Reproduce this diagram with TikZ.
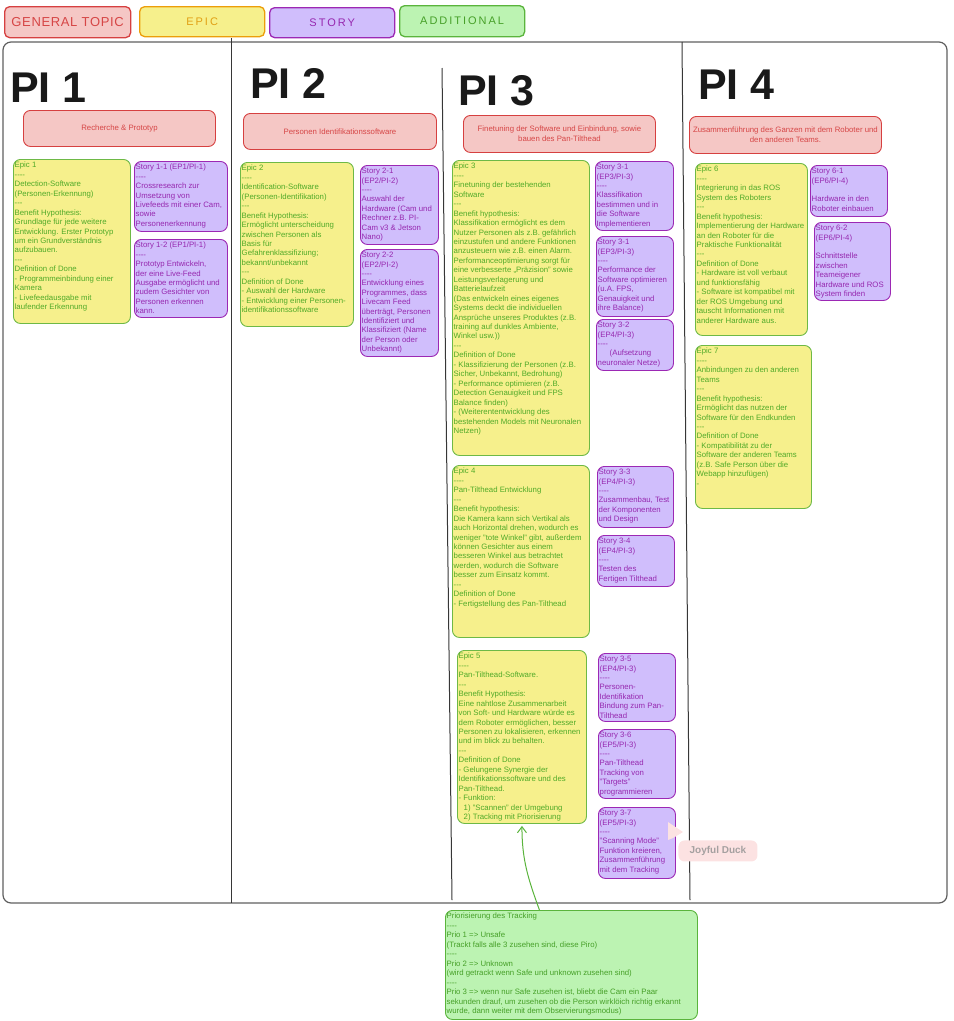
\documentclass[tikz,border=0pt]{standalone}
\usepackage{fontspec}
\setmainfont{Liberation Sans}
\usepackage{xcolor}
\usetikzlibrary{shapes,arrows,arrows.meta,positioning}

\definecolor{topicfill}{RGB}{245,199,197}
\definecolor{topicline}{RGB}{214,64,64}
\definecolor{topictext}{RGB}{214,70,70}
\definecolor{epicfill}{RGB}{246,240,140}
\definecolor{epicline}{RGB}{110,185,70}
\definecolor{epictext}{RGB}{80,170,40}
\definecolor{legendepic}{RGB}{236,158,10}
\definecolor{legendepictext}{RGB}{225,160,20}
\definecolor{storyfill}{RGB}{208,190,252}
\definecolor{storyline}{RGB}{156,40,180}
\definecolor{storytext}{RGB}{150,40,175}
\definecolor{addfill}{RGB}{188,243,178}
\definecolor{addline}{RGB}{90,180,60}
\definecolor{addtext}{RGB}{70,160,40}
\definecolor{frameline}{RGB}{95,95,95}
\definecolor{divline}{RGB}{55,55,55}
\definecolor{headtext}{RGB}{25,25,25}
\definecolor{duckfill}{RGB}{252,226,226}
\definecolor{ducktext}{RGB}{165,160,160}

\newcommand{\fourdash}{-{}-{}-{}-}
\newcommand{\threedash}{-{}-{}-}

\begin{document}
\begin{tikzpicture}[
    x=1pt, y=-1pt,
    card/.style={rectangle, rounded corners=7pt, line width=0.9pt, inner sep=0pt, anchor=north west},
    topic/.style={card, fill=topicfill, draw=topicline, text=topictext, align=center, font=\fontsize{7.8}{10}\selectfont},
    epic/.style={card, fill=epicfill, draw=epicline},
    story/.style={card, fill=storyfill, draw=storyline},
    extra/.style={card, fill=addfill, draw=addline},
    epictxt/.style={anchor=north west, inner xsep=1.5pt, inner ysep=3pt, align=left, text=epictext, font=\fontsize{7.8}{9.45}\selectfont},
    storytxt/.style={anchor=north west, inner xsep=1.5pt, inner ysep=3pt, align=left, text=storytext, font=\fontsize{7.8}{9.4}\selectfont},
    extratxt/.style={anchor=north west, inner xsep=1.5pt, inner ysep=3pt, align=left, text=addtext, font=\fontsize{7.8}{9.5}\selectfont},
    legend/.style={card, line width=1.3pt, rounded corners=5pt, font=\fontsize{11}{11}\selectfont\addfontfeatures{LetterSpace=18}},
    heading/.style={anchor=base west, inner sep=0pt, text=headtext, font=\fontsize{43}{43}\selectfont\bfseries},
    divider/.style={draw=divline, line width=1pt},
    link/.style={-{Straight Barb[length=6pt,width=9pt]}, line width=1pt, draw=addline},
    duck/.style={card, rounded corners=6pt, fill=duckfill, text=ducktext, font=\fontsize{10}{10}\selectfont\bfseries}
]
    \useasboundingbox (0,0) rectangle (954,1021);

    % legend
    \node[legend, fill=topicfill, draw=topicline, text=topictext, minimum width=126pt, minimum height=31pt, font=\fontsize{13}{13}\selectfont\addfontfeatures{LetterSpace=5}] (lgtopic) at (4,6) {GENERAL TOPIC};
    \node[legend, fill=epicfill, draw=legendepic, text=legendepictext, minimum width=125pt, minimum height=30pt] (lgepic) at (139,6) {EPIC};
    \node[legend, fill=storyfill, draw=storyline, text=storytext, minimum width=125pt, minimum height=30pt] (lgstory) at (269,7) {STORY};
    \node[legend, fill=addfill, draw=addline, text=addtext, minimum width=125pt, minimum height=31pt] (lgadd) at (399,5) {ADDITIONAL};

    % board
    \draw[draw=frameline, line width=1.2pt, rounded corners=8pt] (3,42) rectangle (947,903);
    \draw[divider] (231,38) -- (231,903);
    \draw[divider] (442,68) -- (452,900);
    \draw[divider] (682,42) -- (690,900);

    \node[heading] (pi1) at (10,102) {PI 1};
    \node[heading] (pi2) at (250,98) {PI 2};
    \node[heading] (pi3) at (458,105) {PI 3};
    \node[heading] (pi4) at (698,99) {PI 4};

    % general topics
    \node[topic, minimum width=192pt, minimum height=36pt] (t1) at (23,110) {Recherche \& Prototyp};
    \node[topic, minimum width=193pt, minimum height=36pt] (t2) at (243,113) {Personen Identifikationssoftware};
    \node[topic, minimum width=192pt, minimum height=37pt] (t3) at (463,115) {Finetuning der Software und Einbindung, sowie\\bauen des Pan-Tilthead};
    \node[topic, minimum width=192pt, minimum height=37pt] (t4) at (689,116) {Zusammenführung des Ganzen mit dem Roboter und\\den anderen Teams.};

    % PI 1
    \node[epic, minimum width=117pt, minimum height=164pt, label={[epictxt]north west:{Epic 1\\\fourdash\\Detection-Software\\(Personen-Erkennung)\\\threedash\\Benefit Hypothesis:\\Grundlage für jede weitere\\Entwicklung. Erster Prototyp\\um ein Grundverständnis\\aufzubauen.\\\threedash\\Definition of Done\\- Programmeinbindung einer\\Kamera\\- Livefeedausgabe mit\\laufender Erkennung}}] (ep1) at (13,159) {};
    \node[story, minimum width=93pt, minimum height=70pt, label={[storytxt]north west:{Story 1-1 (EP1/PI-1)\\\fourdash\\Crossresearch zur\\Umsetzung von\\Livefeeds mit einer Cam,\\sowie\\Personenerkennung}}] (s11) at (134,161) {};
    \node[story, minimum width=93pt, minimum height=78pt, label={[storytxt]north west:{Story 1-2 (EP1/PI-1)\\\fourdash\\Prototyp Entwickeln,\\der eine Live-Feed\\Ausgabe ermöglicht und\\zudem Gesichter von\\Personen erkennen\\kann.}}] (s12) at (134,239) {};

    % PI 2
    \node[epic, minimum width=113pt, minimum height=164pt, label={[epictxt]north west:{Epic 2\\\fourdash\\Identification-Software\\(Personen-Identifikation)\\\threedash\\Benefit Hypothesis:\\Ermöglicht unterscheidung\\zwischen Personen als\\Basis für\\Gefahrenklassifiziung;\\bekannt/unbekannt\\\threedash\\Definition of Done\\- Auswahl der Hardware\\- Entwicklung einer Personen-\\identifikationssoftware}}] (ep2) at (240,162) {};
    \node[story, minimum width=78pt, minimum height=79pt, label={[storytxt]north west:{Story 2-1\\(EP2/PI-2)\\\fourdash\\Auswahl der\\Hardware (Cam und\\Rechner z.B. PI-\\Cam v3 \& Jetson\\Nano)}}] (s21) at (360,165) {};
    \node[story, minimum width=78pt, minimum height=107pt, label={[storytxt]north west:{Story 2-2\\(EP2/PI-2)\\\fourdash\\Entwicklung eines\\Programmes, dass\\Livecam Feed\\überträgt, Personen\\Identifiziert und\\Klassifiziert (Name\\der Person oder\\Unbekannt)}}] (s22) at (360,249) {};

    % PI 3
    \node[epic, minimum width=137pt, minimum height=295pt, label={[epictxt]north west:{Epic 3\\\fourdash\\Finetuning der bestehenden\\Software\\\threedash\\Benefit hypothesis:\\Klassifikation ermöglicht es dem\\Nutzer Personen als z.B. gefährlich\\einzustufen und andere Funktionen\\anzusteuern wie z.B. einen Alarm.\\Performanceoptimierung sorgt für\\eine verbesserte „Präzision" sowie\\Leistungsverlagerung und\\Batterielaufzeit\\(Das entwickeln eines eigenes\\Systems deckt die individuellen\\Ansprüche unseres Produktes (z.B.\\training auf dunkles Ambiente,\\Winkel usw.))\\\threedash\\Definition of Done\\- Klassifizierung der Personen (z.B.\\Sicher, Unbekannt, Bedrohung)\\- Performance optimieren (z.B.\\Detection Genauigkeit und FPS\\Balance finden)\\- (Weiterententwicklung des\\bestehenden Models mit Neuronalen\\Netzen)}}] (ep3) at (452,160) {};
    \node[story, minimum width=78pt, minimum height=69pt, label={[storytxt]north west:{Story 3-1\\(EP3/PI-3)\\\fourdash\\Klassifikation\\bestimmen und in\\die Software\\Implementieren}}] (s31a) at (595,161) {};
    \node[story, minimum width=77pt, minimum height=80pt, label={[storytxt]north west:{Story 3-1\\(EP3/PI-3)\\\fourdash\\Performance der\\Software optimieren\\(u.A. FPS,\\Genauigkeit und\\ihre Balance)}}] (s31b) at (596,236) {};
    \node[story, minimum width=77pt, minimum height=51pt, label={[storytxt]north west:{Story 3-2\\(EP4/PI-3)\\\fourdash\\\hspace*{12pt}(Aufsetzung\\neuronaler Netze)}}] (s32) at (596,319) {};

    \node[epic, minimum width=137pt, minimum height=172pt, label={[epictxt]north west:{Epic 4\\\fourdash\\Pan-Tilthead Entwicklung\\\threedash\\Benefit hypothesis:\\Die Kamera kann sich Vertikal als\\auch Horizontal drehen, wodurch es\\weniger "tote Winkel" gibt, außerdem\\können Gesichter aus einem\\besseren Winkel aus betrachtet\\werden, wodurch die Software\\besser zum Einsatz kommt.\\\threedash\\Definition of Done\\- Fertigstellung des Pan-Tilthead}}] (ep4) at (452,465) {};
    \node[story, minimum width=76pt, minimum height=61pt, label={[storytxt]north west:{Story 3-3\\(EP4/PI-3)\\\fourdash\\Zusammenbau, Test\\der Komponenten\\und Design}}] (s33) at (597,466) {};
    \node[story, minimum width=77pt, minimum height=51pt, label={[storytxt]north west:{Story 3-4\\(EP4/PI-3)\\\fourdash\\Testen des\\Fertigen Tilthead}}] (s34) at (597,535) {};

    \node[epic, minimum width=129pt, minimum height=173pt, label={[epictxt]north west:{Epic 5\\\fourdash\\Pan-Tilthead-Software.\\\threedash\\Benefit Hypothesis:\\Eine nahtlose Zusammenarbeit\\von Soft- und Hardware würde es\\dem Roboter ermöglichen, besser\\Personen zu lokalisieren, erkennen\\und im blick zu behalten.\\\threedash\\Definition of Done\\- Gelungene Synergie der\\Identifikationssoftware und des\\Pan-Tilthead.\\- Funktion:\\\hspace*{5pt}1) "Scannen" der Umgebung\\\hspace*{5pt}2) Tracking mit Priorisierung}}] (ep5) at (457,650) {};
    \node[story, minimum width=77pt, minimum height=68pt, label={[storytxt]north west:{Story 3-5\\(EP4/PI-3)\\\fourdash\\Personen-\\Identifikation\\Bindung zum Pan-\\Tilthead}}] (s35) at (598,653) {};
    \node[story, minimum width=77pt, minimum height=69pt, label={[storytxt]north west:{Story 3-6\\(EP5/PI-3)\\\fourdash\\Pan-Tilthead\\Tracking von\\"Targets"\\programmieren}}] (s36) at (598,729) {};
    \node[story, minimum width=77pt, minimum height=71pt, label={[storytxt]north west:{Story 3-7\\(EP5/PI-3)\\\fourdash\\"Scanning Mode"\\Funktion kreieren,\\Zusammenführung\\mit dem Tracking}}] (s37) at (598,807) {};

    % PI 4
    \node[epic, minimum width=112pt, minimum height=172pt, label={[epictxt]north west:{Epic 6\\\fourdash\\Integrierung in das ROS\\System des Roboters\\\threedash\\Benefit hypothesis:\\Implementierung der Hardware\\an den Roboter für die\\Praktische Funktionalität\\\threedash\\Definition of Done\\- Hardware ist voll verbaut\\und funktionsfähig\\- Software ist kompatibel mit\\der ROS Umgebung und\\tauscht Informationen mit\\anderer Hardware aus.}}] (ep6) at (695,163) {};
    \node[story, minimum width=77pt, minimum height=51pt, label={[storytxt]north west:{Story 6-1\\(EP6/PI-4)\\[9.4pt]Hardware in den\\Roboter einbauen}}] (s61) at (810,165) {};
    \node[story, minimum width=76pt, minimum height=78pt, label={[storytxt]north west:{Story 6-2\\(EP6/PI-4)\\[9.4pt]Schnittstelle\\zwischen\\Teameigener\\Hardware und ROS\\System finden}}] (s62) at (814,222) {};
    \node[epic, minimum width=116pt, minimum height=163pt, label={[epictxt]north west:{Epic 7\\\fourdash\\Anbindungen zu den anderen\\Teams\\\threedash\\Benefit hypothesis:\\Ermöglicht das nutzen der\\Software für den Endkunden\\\threedash\\Definition of Done\\- Kompatibilität zu der\\Software der anderen Teams\\(z.B. Safe Person über die\\Webapp hinzufügen)\\-}}] (ep7) at (695,345) {};

    % additional note
    \node[extra, minimum width=252pt, minimum height=109pt, label={[extratxt]north west:{Priorisierung des Tracking\\\fourdash\\Prio 1 => Unsafe\\(Trackt falls alle 3 zusehen sind, diese Piro)\\\fourdash\\Prio 2 => Unknown\\(wird getrackt wenn Safe und unknown zusehen sind)\\\fourdash\\Prio 3 => wenn nur Safe zusehen ist, bliebt die Cam ein Paar\\sekunden drauf, um zusehen ob die Person wirklöich richtig erkannt\\wurde, dann weiter mit dem Observierungsmodus)}}] (prio) at (445,910) {};
    \draw[link] ([xshift=-32pt]prio.north) to[out=110, in=-90] ([yshift=-2pt]ep5.south);

    % cursor
    \fill[duckfill] (668,822) -- (683,832) -- (673,838) -- (668,840) -- cycle;
    \node[duck, minimum width=79pt, minimum height=21pt] (duck) at (678,840) {Joyful Duck};
\end{tikzpicture}
\end{document}
